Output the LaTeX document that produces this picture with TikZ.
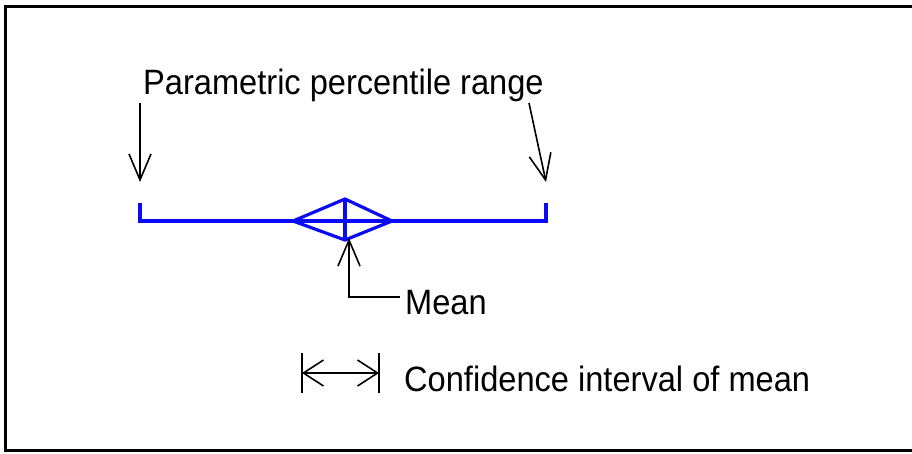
\documentclass[tikz,border=0pt]{standalone}
\usepackage{fontspec}
\setmainfont{Liberation Sans}
\usepackage{tikz}
\usetikzlibrary{arrows.meta,positioning,calc}
\definecolor{rangeblue}{HTML}{0A0AF5}
\newcommand{\tallword}[1]{\scalebox{1}[1.08]{#1}}

\begin{document}
\begin{tikzpicture}[
  x=1pt, y=-1pt,
  lbl/.style={font=\fontsize{32.6}{36}\selectfont, inner sep=0pt, anchor=base west},
  ptr/.style={-{Straight Barb[length=26pt, width=22pt]}, line width=1.6pt, draw=black},
  cibar/.style={line width=1.6pt, draw=black},
  rangeline/.style={line width=3.2pt, draw=rangeblue, line join=miter},
]
\useasboundingbox (0,0) rectangle (912,453);
% frame, open at the right
\draw[line width=3pt] (920,6.5) -- (5.5,6.5) -- (5.5,450.5) -- (920,450.5);

\node[lbl] (title) at (143,94) {\tallword{Parametric percentile range}};
\node[lbl] (mean) at (405,314) {\tallword{Mean}};
\node[lbl] (ci) at (404,391) {\tallword{Confidence interval of mean}};

% percentile range with mean diamond
\coordinate (pl) at (140,203);
\coordinate (pr) at (546,203);
\coordinate (dl) at (293,221);
\coordinate (dt) at (345,199);
\coordinate (dr) at (392,221);
\coordinate (db) at (345,240);
\draw[rangeline] (pl) -- (pl |- dl) -- (pr |- dl) -- (pr);
\draw[rangeline] (dl) -- (dt) -- (dr) -- (db) -- cycle;
\draw[rangeline] (dt) -- (db);

% pointers from the title
\coordinate (lstart) at (140,103);
\coordinate (lend) at (140,182);
\coordinate (rstart) at (529,103);
\coordinate (rend) at (546,182);
\draw[ptr] (lstart) -- (lend);
\draw[ptr] (rstart) -- (rend);

% mean pointer
\coordinate (meantip) at (349,238);
\coordinate (meanfoot) at (349,297);
\draw[ptr] ([xshift=-5pt]mean.west |- meanfoot) -- (meanfoot) -- (meantip);

% confidence interval key
\coordinate (cil) at (302,373);
\coordinate (cir) at (379,373);
\draw[cibar] ([yshift=-20pt]cil) -- ([yshift=20pt]cil);
\draw[cibar] ([yshift=-20pt]cir) -- ([yshift=20pt]cir);
\draw[{Straight Barb[length=20pt, width=26pt]}-{Straight Barb[length=20pt, width=26pt]}, line width=1.6pt] (cil) -- (cir);
\end{tikzpicture}
\end{document}
